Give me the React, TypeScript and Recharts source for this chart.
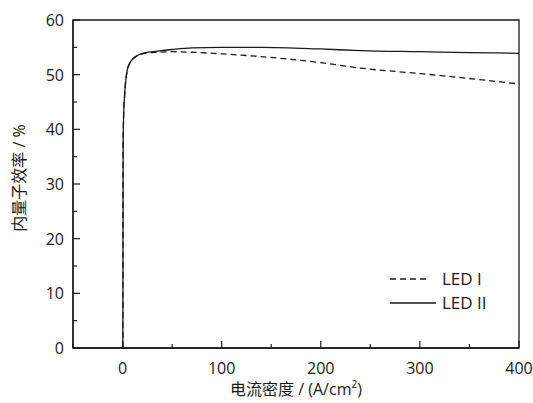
import { LineChart, Line, XAxis, YAxis, ReferenceArea, Label } from 'recharts';

const currentDensity = [0.3, 0.6, 1, 2, 3, 4.7, 7, 11, 16, 22, 35, 50, 70, 100, 140, 200, 240, 300, 350, 400];
const led1 = [0, 38, 42, 46, 48.5, 50.8, 52, 53, 53.5, 53.9, 54.1, 54.2, 54.1, 53.8, 53.3, 52.2, 51.2, 50.2, 49.3, 48.3];
const led2 = [0, 38, 42, 46, 48.5, 50.8, 52, 53, 53.6, 54, 54.3, 54.6, 54.9, 55.0, 55.0, 54.7, 54.4, 54.2, 54.05, 53.9];

const xTicks = [-50, 0, 50, 100, 150, 200, 250, 300, 350, 400];
const yTicks = [0, 5, 10, 15, 20, 25, 30, 35, 40, 45, 50, 55, 60];

const data = currentDensity.map((x, i) => ({ x, led1: led1[i], led2: led2[i] }));

const INK = '#1a1a1a';
const FONT = "'Open Sans', 'Noto Sans CJK SC', sans-serif";

const XTick = (props: any) => {
  const { x, y, payload } = props;
  const major = payload.value % 100 === 0;
  return (
    <g>
      <line x1={x} x2={x} y1={y} y2={y - (major ? 7 : 4)} stroke={INK} strokeWidth={1.2} />
      {major && (
        <text x={x} y={y + 26} textAnchor="middle" fontSize={16} fontFamily={FONT} fill={INK}>
          {payload.value}
        </text>
      )}
    </g>
  );
};

const YTick = (props: any) => {
  const { x, y, payload } = props;
  const major = payload.value % 10 === 0;
  return (
    <g>
      <line x1={x} x2={x + (major ? 7 : 4)} y1={y} y2={y} stroke={INK} strokeWidth={1.2} />
      {major && (
        <text x={x - 9} y={y + 6} textAnchor="end" fontSize={16} fontFamily={FONT} fill={INK}>
          {payload.value}
        </text>
      )}
    </g>
  );
};

// legend drawn on top of the chart so it takes no layout space
const LegendBox = () => (
  <svg width={130} height={50} style={{ position: 'absolute', left: 388, top: 265 }}>
    <line x1={2} x2={40} y1={14} y2={14} stroke={INK} strokeWidth={1.3} strokeDasharray="6 4" />
    <text x={54} y={20} fontSize={17} fontFamily={FONT} fill={INK}>LED I</text>
    <line x1={2} x2={48} y1={38} y2={38} stroke={INK} strokeWidth={1.3} />
    <text x={54} y={44} fontSize={17} fontFamily={FONT} fill={INK}>LED II</text>
  </svg>
);

export default function App() {
  return (
    <div style={{ position: 'absolute', left: 0, top: 0, width: 533, height: 403, background: '#fff' }}>
      <LineChart width={533} height={403} data={data} margin={{ top: 20, right: 14, bottom: 0, left: 0 }}>
        <XAxis
          dataKey="x"
          type="number"
          domain={[-50, 400]}
          ticks={xTicks}
          height={55}
          tickSize={0}
          tickMargin={0}
          tickLine={false}
          tick={<XTick />}
          axisLine={{ stroke: INK, strokeWidth: 1.3 }}
          allowDataOverflow
        >
          <Label
            content={() => (
              <text x={296} y={395} textAnchor="middle" fontSize={16} fontFamily={FONT} fill={INK}>
                电流密度 / (A/cm<tspan dy={-7} fontSize={10}>2</tspan>
                <tspan dy={7}>)</tspan>
              </text>
            )}
          />
        </XAxis>
        <YAxis
          type="number"
          domain={[0, 60]}
          ticks={yTicks}
          width={73}
          tickSize={0}
          tickMargin={0}
          tickLine={false}
          tick={<YTick />}
          axisLine={{ stroke: INK, strokeWidth: 1.3 }}
          allowDataOverflow
        >
          <Label
            content={() => (
              <text
                x={25}
                y={178}
                transform="rotate(-90 25 178)"
                textAnchor="middle"
                fontSize={16}
                fontFamily={FONT}
                fill={INK}
              >
                内量子效率 / %
              </text>
            )}
          />
        </YAxis>
        <ReferenceArea x1={-50} x2={400} y1={0} y2={60} fill="none" fillOpacity={0} stroke={INK} strokeWidth={1.3} />
        <Line
          dataKey="led1"
          type="monotone"
          stroke={INK}
          strokeWidth={1.3}
          strokeDasharray="6 4"
          dot={false}
          isAnimationActive={false}
        />
        <Line dataKey="led2" type="monotone" stroke={INK} strokeWidth={1.3} dot={false} isAnimationActive={false} />
      </LineChart>
      <LegendBox />
    </div>
  );
}
